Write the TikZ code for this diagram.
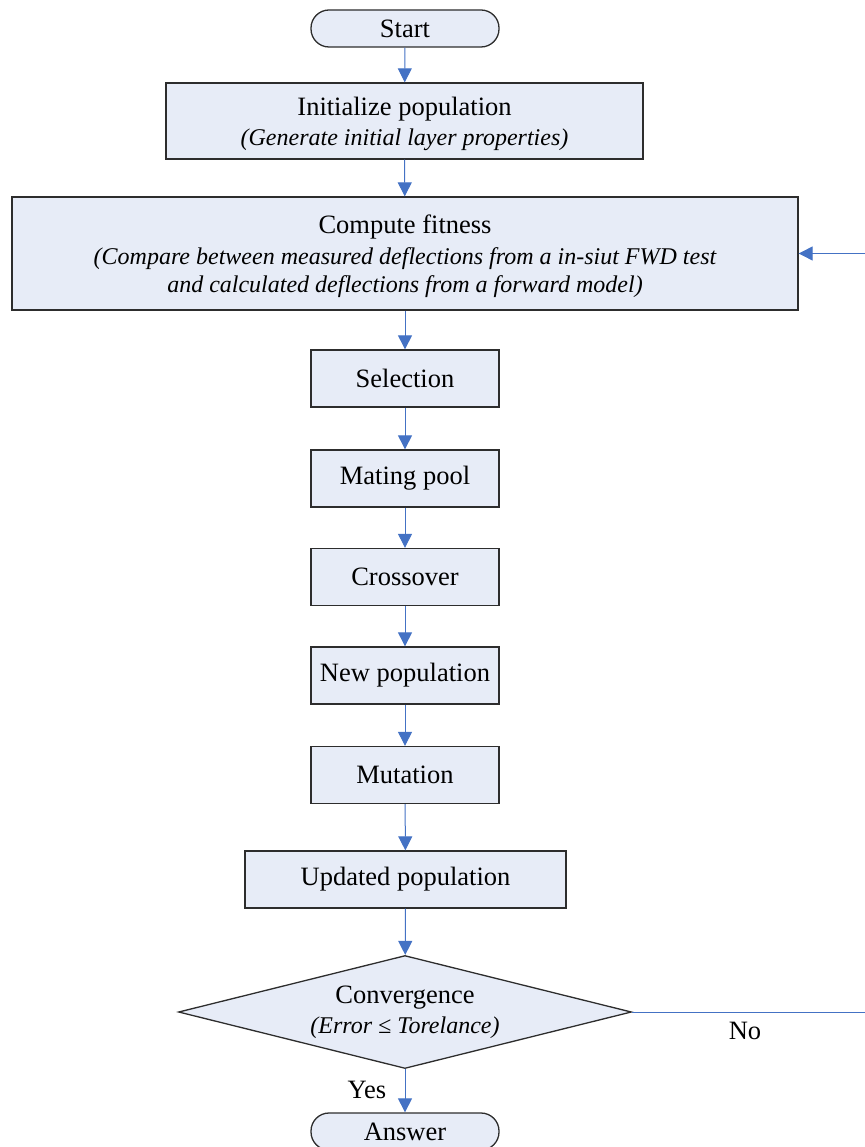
\documentclass[tikz,border=0pt]{standalone}
\usepackage{fontspec}
\setmainfont{Liberation Serif}
\usetikzlibrary{arrows.meta,shapes.geometric}
\definecolor{boxfill}{RGB}{231,236,247}
\definecolor{flow}{RGB}{68,114,196}
\definecolor{edgegray}{RGB}{45,45,45}
\newcommand{\subline}{\fontsize{24}{30}\selectfont\itshape}
\begin{document}
\begin{tikzpicture}[x=1pt,y=-1pt,
  base/.style={draw=edgegray, line width=1.3pt, fill=boxfill, inner sep=0pt,
    align=center, font=\fontsize{26.5}{30}\selectfont},
  terminal/.style={base, rounded corners=18pt, minimum width=188pt, minimum height=37pt},
  proc/.style={base, rectangle, minimum height=57pt},
  decision/.style={base, diamond, minimum width=453pt, minimum height=113pt},
  flowline/.style={draw=flow, line width=1pt, -{Triangle[length=14pt,width=14pt]}},
  lbl/.style={font=\fontsize{26.5}{30}\selectfont, inner sep=0pt, align=center}
]
\useasboundingbox (0,0) rectangle (864,1147);

% process chain
\node[terminal] (start) at (405,28.5) {Start};
\node[proc, minimum width=477pt, minimum height=76pt] (init) at (404.5,121) {};
\node[lbl] (inittext) at (404.5,124)
  {Initialize population\\[0pt]{\subline (Generate initial layer properties)}};
\node[proc, minimum width=786pt, minimum height=113pt] (fit) at (405,253.5) {};
\node[lbl] (fittext) at (405,256.5)
  {Compute fitness\\[1pt]{\subline (Compare between measured deflections from a in-siut FWD test}\\[-2pt]
   {\subline and calculated deflections from a forward model)}};
\node[proc, minimum width=188pt] (sel) at (405,378.5) {Selection};
\node[proc, minimum width=188pt] (mate) at (405,478.5) {Mating pool};
\node[proc, minimum width=188pt] (cross) at (405,577) {Crossover};
\node[proc, minimum width=188pt] (newpop) at (405,675.5) {New population};
\node[proc, minimum width=188pt] (mut) at (405,775) {Mutation};
\node[proc, minimum width=321pt] (upd) at (405.5,879.5) {Updated population};
\node[decision] (conv) at (405,1012) {};
\node[lbl] (convtext) at (405,1012)
  {Convergence\\[0pt]{\subline (Error ≤ Torelance)}};
\node[terminal] (ans) at (405,1131.5) {Answer};

% loop-back route, running off the right edge
\coordinate (rb) at (900,1012);
\coordinate (rt) at (900,253.5);

% connectors
\draw[flowline] (start) -- (init);
\draw[flowline] (init) -- (fit);
\draw[flowline] (fit) -- (sel);
\draw[flowline] (sel) -- (mate);
\draw[flowline] (mate) -- (cross);
\draw[flowline] (cross) -- (newpop);
\draw[flowline] (newpop) -- (mut);
\draw[flowline] (mut) -- (upd);
\draw[flowline] (upd) -- (conv);
\draw[flowline] (conv) -- (ans);
\draw[flowline] (conv.east) -- (rb) -- (rt) -- (fit.east);

% branch labels
\node[lbl] (yes) at (367,1090) {Yes};
\node[lbl] (no) at (745,1031) {No};
\end{tikzpicture}
\end{document}
